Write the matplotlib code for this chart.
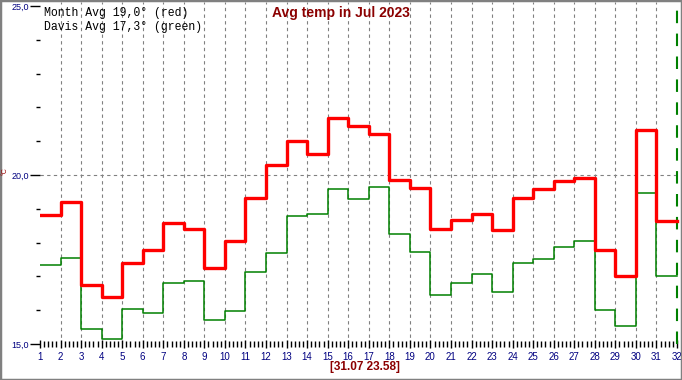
import numpy as np
import matplotlib.pyplot as plt
from matplotlib.ticker import MultipleLocator
from matplotlib.patches import Rectangle

# Daily average temperature, July 2023
days = np.arange(1, 32)
month_avg = [18.83, 19.19, 16.74, 16.39, 17.41, 17.78, 18.58, 18.40, 17.25, 18.05,
             19.32, 20.30, 21.01, 20.63, 21.69, 21.44, 21.22, 19.86, 19.62, 18.41,
             18.67, 18.86, 18.38, 19.32, 19.59, 19.83, 19.92, 17.78, 17.01, 21.33,
             18.64]
davis_avg = [17.33, 17.55, 15.45, 15.15, 16.03, 15.91, 16.81, 16.85, 15.70, 15.97,
             17.12, 17.68, 18.78, 18.84, 19.58, 19.28, 19.64, 18.26, 17.73, 16.44,
             16.80, 17.06, 16.53, 17.39, 17.51, 17.86, 18.05, 16.00, 15.53, 19.47,
             17.01]
title = 'Avg temp in Jul 2023'
legend_lines = ['Month Avg 19,0° (red)', 'Davis Avg 17,3° (green)']
stamp = '[31.07 23.58]'

W, H = 682, 380
fig = plt.figure(figsize=(W / 100, H / 100), dpi=100)
fig.patch.set_facecolor('white')

# axes area in pixels: day 1 at x=40, day 32 at x=677, 15.0 at y=344, 25.0 at y=6
ax = fig.add_axes([40 / W, (H - 344) / H, (680 - 40) / W, (344 - 2) / H])
px_day = (677 - 40) / 31
px_deg = (344 - 6) / 10
ax.set_xlim(1, 1 + (680 - 40) / px_day)
ax.set_ylim(15, 15 + (344 - 2) / px_deg)

for s in ax.spines.values():
    s.set_visible(False)

# grid
for d in range(2, 32):
    ax.axvline(d, color='#808080', lw=0.8, ls=(0, (3, 3)), zorder=1)
ax.axhline(20, color='#808080', lw=0.8, ls=(0, (3, 3)), zorder=1)

x = np.append(days, 32)
ax.step(x, davis_avg + [davis_avg[-1]], where='post', color='#008000', lw=1.1, zorder=3)
ax.step(x, month_avg + [month_avg[-1]], where='post', color='#ff0000', lw=2.4, zorder=4)
ax.axvline(32, color='#008000', lw=1.5, ls=(0, (6, 5)), zorder=3)

# ticks
ax.set_xticks(range(1, 33))
ax.xaxis.set_minor_locator(MultipleLocator(0.2))
ax.set_yticks([15, 20, 25])
ax.set_yticklabels(['15,0', '20,0', '25,0'])
ax.yaxis.set_minor_locator(MultipleLocator(1))
ax.tick_params(axis='x', which='major', direction='inout', length=6, width=1,
               colors='black', labelcolor='#000080', labelsize=7, pad=3)
ax.tick_params(axis='x', which='minor', direction='inout', length=4, width=1, colors='black')
ax.tick_params(axis='y', which='major', direction='out', length=7, width=1,
               colors='black', labelcolor='#000080', labelsize=6.5, pad=1)
ax.tick_params(axis='y', which='minor', direction='out', length=3, width=1, colors='black')
for lab in ax.get_xticklabels() + ax.get_yticklabels():
    lab.set_family('Liberation Sans')

# texts
fig.text(341 / W, 1 - 13 / H, title, ha='center', va='center', color='#8b0000',
         fontsize=10, fontweight='bold', family='Liberation Sans')
fig.text(365 / W, 1 - 367 / H, stamp, ha='center', va='center', color='#8b0000',
         fontsize=8.5, fontweight='bold', family='Liberation Sans')
for i, line in enumerate(legend_lines):
    fig.text(44 / W, 1 - (13 + 14 * i) / H, line, ha='left', va='center', color='black',
             fontsize=8.3, family='Liberation Mono')
fig.text(5 / W, 1 - 171 / H, '°C', ha='center', va='center', color='#990000',
         fontsize=5, rotation=90, family='Liberation Sans')

# window frame
fig.patches.append(Rectangle((0, 0), 1, 1, transform=fig.transFigure, fill=False,
                             edgecolor='#808080', lw=2.5))

fig.savefig('out.png', dpi=100)
